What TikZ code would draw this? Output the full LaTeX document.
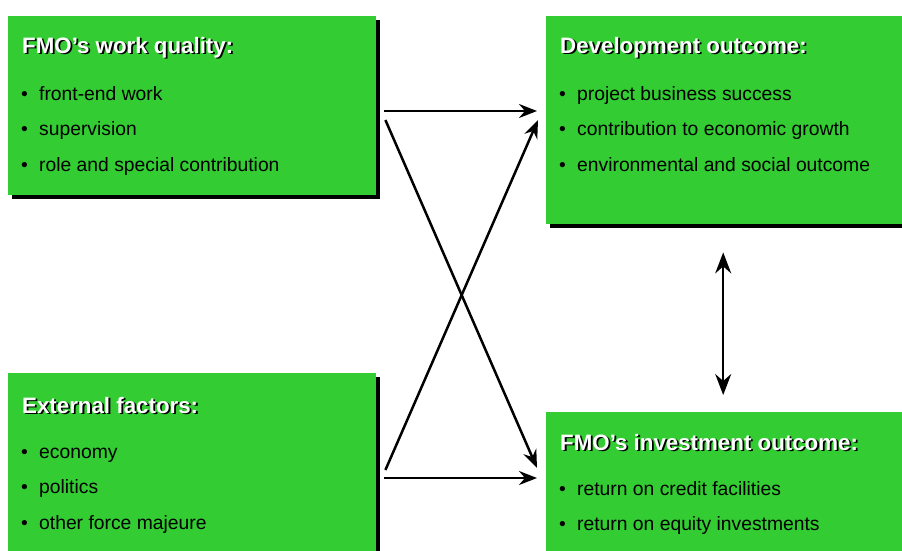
\documentclass[tikz,border=0pt]{standalone}
\usepackage{fontspec}
\setmainfont{Liberation Sans}
\usetikzlibrary{calc,shadows,arrows.meta}
\definecolor{boxgreen}{RGB}{51,204,51}
% white heading with a hard black shadow
\newcommand{\shadowtext}[1]{\rlap{\hspace{1.8pt}\raisebox{-1.8pt}{\color{black}#1}}{\color{white}#1}}
\newcommand{\bulletitem}[1]{\makebox[18pt][l]{\textbullet}#1}

\begin{document}
\begin{tikzpicture}[
    x = 1pt, y = -1pt,
    box/.style = {fill = boxgreen, anchor = north west, inner sep = 0pt,
      drop shadow = {fill = black, opacity = 1, shadow xshift = 4pt, shadow yshift = -4pt}},
    boxhead/.style = {anchor = base west, inner sep = 0pt, font = \bfseries\fontsize{22.3}{26}\selectfont},
    listitem/.style = {anchor = base west, inner sep = 0pt, font = \fontsize{19.3}{23}\selectfont},
    flowtip/.tip = {Stealth[length = 18pt, width = 14pt, inset = 6pt]},
    bigtip/.tip = {Stealth[length = 21pt, width = 16pt, inset = 7pt]},
    link/.style = {line width = 2.5pt, -flowtip},
    twoway/.style = {line width = 2.2pt, bigtip-bigtip}
]
\useasboundingbox (0,0) rectangle (902,550);

% boxes
\node[box, minimum width = 368pt, minimum height = 179pt] (wq) at (8,16) {};
\node[box, minimum width = 360pt, minimum height = 208pt] (dev) at (546,16) {};
\node[box, minimum width = 368pt, minimum height = 190pt] (ext) at (8,373) {};
\node[box, minimum width = 360pt, minimum height = 150pt] (inv) at (546,412) {};

% headings
\node[boxhead] (wq-head) at ($(wq.north west)+(14,37)$) {\shadowtext{FMO’s work quality:}};
\node[boxhead] (dev-head) at ($(dev.north west)+(14,37)$) {\shadowtext{Development outcome:}};
\node[boxhead] (ext-head) at ($(ext.north west)+(14,40)$) {\shadowtext{External factors:}};
\node[boxhead] (inv-head) at ($(inv.north west)+(14,38)$) {\shadowtext{FMO’s investment outcome:}};

% bullet lists
\foreach \txt [count = \i] in {front-end work, supervision, role and special contribution}
  \node[listitem] (wq-\i) at ($(wq.north west)+(13,48.5+35.5*\i)$) {\bulletitem{\txt}};
\foreach \txt [count = \i] in {project business success, contribution to economic growth, environmental and social outcome}
  \node[listitem] (dev-\i) at ($(dev.north west)+(13,48.5+35.5*\i)$) {\bulletitem{\txt}};
\foreach \txt [count = \i] in {economy, politics, other force majeure}
  \node[listitem] (ext-\i) at ($(ext.north west)+(13,49.5+35.5*\i)$) {\bulletitem{\txt}};
\foreach \txt [count = \i] in {return on credit facilities, return on equity investments}
  \node[listitem] (inv-\i) at ($(inv.north west)+(13,47.5+35.5*\i)$) {\bulletitem{\txt}};

% arrows
\draw[link] ($(wq.north east)+(8,95)$) -- ($(dev.north west)+(-9,95)$);
\draw[link] ($(wq.north east)+(9,104)$) -- ($(inv.north west)+(-9,56)$);
\draw[link] ($(ext.north east)+(9,97)$) -- ($(dev.north west)+(-8,104)$);
\draw[link] ($(ext.north east)+(8,105)$) -- ($(inv.north west)+(-9,66)$);
\draw[twoway] ($(dev.south)+(-3,28)$) -- ($(inv.north)+(-3,-17)$);

\end{tikzpicture}
\end{document}
